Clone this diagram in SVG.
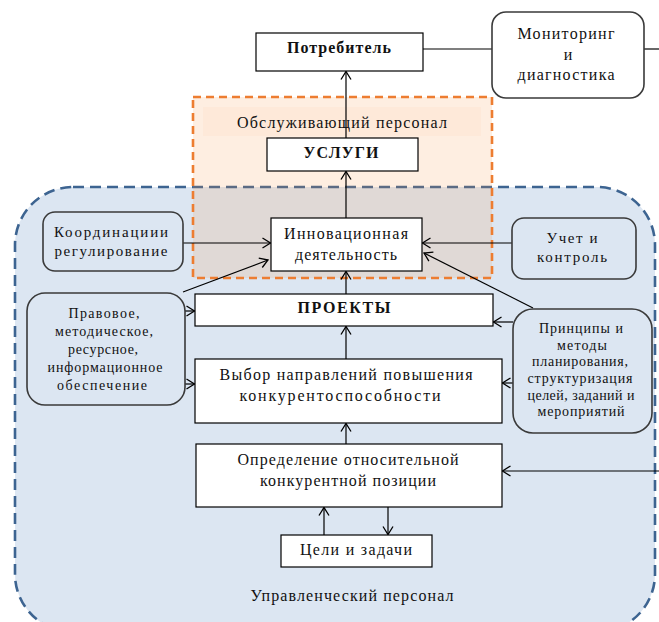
<svg xmlns="http://www.w3.org/2000/svg" width="659" height="622" viewBox="0 0 659 622" font-family="'Liberation Serif', 'DejaVu Serif', serif">
<defs>
<marker id="arr" markerUnits="userSpaceOnUse" markerWidth="12" markerHeight="12" viewBox="-10 -6 12 12" refX="0" refY="0" orient="auto">
<path d="M-8,-5 L0,0 L-8,5" fill="none" stroke="#000" stroke-width="1.3"/>
</marker>
</defs>
<style>
text{font-family:'Liberation Serif','DejaVu Serif',serif;fill:#111;text-anchor:middle;font-size:16px}
.b{font-weight:bold}
.s{font-size:14px}
.m{font-size:15px}
.box{fill:#fff;stroke:#000;stroke-width:1.2}
.rb{fill:none;stroke:#3a3a3a;stroke-width:1.6}
.c{fill:none;stroke:#000;stroke-width:1.2}
.ca{fill:none;stroke:#000;stroke-width:1.2;marker-end:url(#arr)}
</style>

<g id="management-area">
<rect x="15" y="187" width="640" height="445" rx="58" fill="#dce6f2" stroke="#3d6491" stroke-width="2.6" stroke-dasharray="11,6"/>
<text x="352" y="601" textLength="203" lengthAdjust="spacing">Управленческий персонал</text>
</g>

<g id="service-area">
<rect x="193" y="97" width="299" height="181" fill="#f79646" fill-opacity="0.16" stroke="#ed7d31" stroke-width="2.6" stroke-dasharray="8,5"/>
<rect x="203" y="107" width="278" height="29" fill="#f79646" fill-opacity="0.05"/>
<text x="342" y="128" textLength="210" lengthAdjust="spacing">Обслуживающий персонал</text>
</g>

<g id="connectors">
<line class="c" x1="423" y1="49" x2="492" y2="49"/>
<line class="c" x1="644" y1="49" x2="659" y2="49"/>
<line class="ca" x1="346" y1="138" x2="346" y2="71.5"/>
<line class="ca" x1="346" y1="218" x2="346" y2="171.5"/>
<line class="ca" x1="346" y1="294" x2="346" y2="271.5"/>
<line class="ca" x1="346" y1="359" x2="346" y2="326.5"/>
<line class="ca" x1="346" y1="444" x2="346" y2="423.5"/>
<line class="ca" x1="324" y1="535" x2="324" y2="507.5"/>
<line class="ca" x1="388" y1="507" x2="388" y2="534.5"/>
<line class="ca" x1="659" y1="471" x2="502.5" y2="471"/>
<line class="ca" x1="183" y1="243" x2="270.5" y2="243"/>
<line class="ca" x1="183" y1="292" x2="268" y2="260"/>
<line class="ca" x1="185" y1="311" x2="194.5" y2="311"/>
<line class="ca" x1="185" y1="384" x2="194.5" y2="384"/>
<line class="ca" x1="512" y1="243" x2="422.5" y2="243"/>
<line class="ca" x1="533" y1="308" x2="424" y2="253"/>
<line class="ca" x1="513" y1="322" x2="493.5" y2="322"/>
<line class="ca" x1="513" y1="383" x2="502.5" y2="383"/>
</g>

<g id="consumer">
<rect class="box" x="256" y="33" width="167" height="38"/>
<text class="b" x="339" y="53" textLength="104" lengthAdjust="spacing">Потребитель</text>
</g>

<g id="monitoring">
<rect class="rb" x="492" y="12" width="152" height="86" rx="14" style="fill:#fff"/>
<text x="566" y="39" textLength="97" lengthAdjust="spacing">Мониторинг</text>
<text x="568" y="60">и</text>
<text x="566" y="80" textLength="97" lengthAdjust="spacing">диагностика</text>
</g>

<g id="services">
<rect class="box" x="267" y="138" width="151" height="33"/>
<text class="b" x="341" y="158" textLength="75" lengthAdjust="spacing">УСЛУГИ</text>
</g>

<g id="innovation">
<rect class="box" x="271" y="218" width="151" height="53"/>
<text x="346" y="239" textLength="124" lengthAdjust="spacing">Инновационная</text>
<text x="346" y="260" textLength="102" lengthAdjust="spacing">деятельность</text>
</g>

<g id="coordination">
<rect class="rb" x="43" y="212" width="140" height="59" rx="12"/>
<text class="m" x="111" y="237" textLength="114" lengthAdjust="spacing">Координациии</text>
<text class="m" x="111" y="256" textLength="113" lengthAdjust="spacing">регулирование</text>
</g>

<g id="accounting">
<rect class="rb" x="512" y="218" width="124" height="61" rx="12"/>
<text class="m" x="572" y="243" textLength="51" lengthAdjust="spacing">Учет и</text>
<text class="m" x="572" y="262" textLength="70" lengthAdjust="spacing">контроль</text>
</g>

<g id="projects">
<rect class="box" x="195" y="294" width="298" height="32"/>
<text class="b" x="344" y="313" textLength="93" lengthAdjust="spacing">ПРОЕКТЫ</text>
</g>

<g id="support">
<rect class="rb" x="27" y="293" width="158" height="112" rx="18"/>
<text class="s" x="104" y="318" textLength="71" lengthAdjust="spacing">Правовое,</text>
<text class="s" x="104" y="336" textLength="98" lengthAdjust="spacing">методическое,</text>
<text class="s" x="103" y="354" textLength="70" lengthAdjust="spacing">ресурсное,</text>
<text class="s" x="105" y="372" textLength="115" lengthAdjust="spacing">информационное</text>
<text class="s" x="102" y="390" textLength="90" lengthAdjust="spacing">обеспечение</text>
</g>

<g id="principles">
<rect class="rb" x="513" y="309" width="139" height="124" rx="20"/>
<text class="s" x="581" y="333" textLength="84" lengthAdjust="spacing">Принципы и</text>
<text class="s" x="582" y="350" textLength="50" lengthAdjust="spacing">методы</text>
<text class="s" x="580" y="366" textLength="96" lengthAdjust="spacing">планирования,</text>
<text class="s" x="580" y="383" textLength="105" lengthAdjust="spacing">структуризация</text>
<text class="s" x="581" y="400" textLength="107" lengthAdjust="spacing">целей, заданий и</text>
<text class="s" x="581" y="416" textLength="87" lengthAdjust="spacing">мероприятий</text>
</g>

<g id="choice">
<rect class="box" x="195" y="359" width="307" height="64"/>
<text x="346" y="380" textLength="253" lengthAdjust="spacing">Выбор направлений повышения</text>
<text x="340" y="401" textLength="201" lengthAdjust="spacing">конкурентоспособности</text>
</g>

<g id="position">
<rect class="box" x="196" y="444" width="306" height="63"/>
<text x="348" y="465" textLength="221" lengthAdjust="spacing">Определение относительной</text>
<text x="348" y="486" textLength="176" lengthAdjust="spacing">конкурентной позиции</text>
</g>

<g id="goals">
<rect class="box" x="281" y="535" width="151" height="32"/>
<text x="356" y="555" textLength="112" lengthAdjust="spacing">Цели и задачи</text>
</g>
</svg>
